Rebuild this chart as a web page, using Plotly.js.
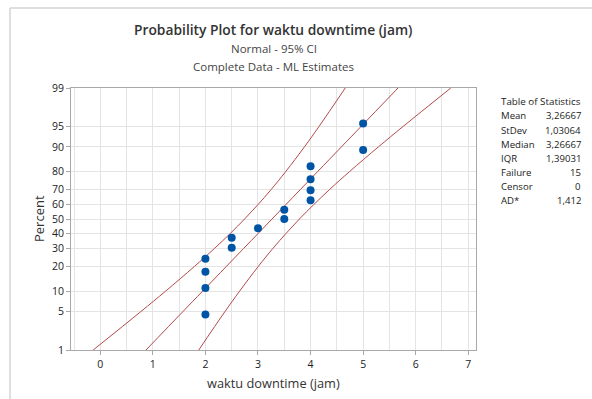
<!DOCTYPE html>
<html>
<head>
<meta charset="utf-8">
<script src="https://cdn.plot.ly/plotly-3.0.1.min.js"></script>
<style>html,body{margin:0;padding:0;background:#fff;}#chart{width:592px;height:399px;}</style>
</head>
<body>
<div id="chart"></div>
<script>
// ---- data ----
const dataX = [2, 2, 2, 2, 2.5, 2.5, 3, 3.5, 3.5, 4, 4, 4, 4, 5, 5];
const dataPct = [4.5, 11.0, 17.5, 24.0, 30.5, 37.0, 43.5, 50.0, 56.5, 63.0, 69.5, 76.0, 82.5, 89.0, 95.5];

const linePct = [1, 5, 10, 20, 30, 40, 50, 60, 70, 80, 90, 95, 99];
const fitX   = [0.869, 1.571, 1.946, 2.399, 2.726, 3.006, 3.267, 3.528, 3.807, 4.134, 4.588, 4.962, 5.664];
const ciLeftX  = [-0.135, 0.771, 1.242, 1.792, 2.170, 2.476, 2.745, 2.998, 3.251, 3.527, 3.884, 4.162, 4.660];
const ciRightX = [1.873, 2.371, 2.650, 3.006, 3.282, 3.536, 3.788, 4.058, 4.363, 4.741, 5.292, 5.762, 6.668];

const yTickPct = [1, 5, 10, 20, 30, 40, 50, 60, 70, 80, 90, 95, 99];
const xTickVals = [0, 1, 2, 3, 4, 5, 6, 7];

const statLabels = ["Mean", "StDev", "Median", "IQR", "Failure", "Censor", "AD*"];
const statValues = ["3,26667", "1,03064", "3,26667", "1,39031", "15", "0", "1,412"];

// ---- probability (normal) scale: percent -> z ----
function normInv(p) {
  const a = [-3.969683028665376e+01, 2.209460984245205e+02, -2.759285104469687e+02, 1.383577518672690e+02, -3.066479806614716e+01, 2.506628277459239e+00];
  const b = [-5.447609879822406e+01, 1.615858368580409e+02, -1.556989798598866e+02, 6.680131188771972e+01, -1.328068155288572e+01];
  const c = [-7.784894002430293e-03, -3.223964580411365e-01, -2.400758277161838e+00, -2.549732539343734e+00, 4.374664141464968e+00, 2.938163982698783e+00];
  const d = [7.784695709041462e-03, 3.224671290700398e-01, 2.445134137142996e+00, 3.754408661907416e+00];
  const pl = 0.02425, ph = 1 - pl;
  let q, r;
  if (p < pl) { q = Math.sqrt(-2 * Math.log(p)); return (((((c[0]*q+c[1])*q+c[2])*q+c[3])*q+c[4])*q+c[5]) / ((((d[0]*q+d[1])*q+d[2])*q+d[3])*q+1); }
  if (p <= ph) { q = p - 0.5; r = q*q; return (((((a[0]*r+a[1])*r+a[2])*r+a[3])*r+a[4])*r+a[5])*q / (((((b[0]*r+b[1])*r+b[2])*r+b[3])*r+b[4])*r+1); }
  q = Math.sqrt(-2 * Math.log(1 - p)); return -(((((c[0]*q+c[1])*q+c[2])*q+c[3])*q+c[4])*q+c[5]) / ((((d[0]*q+d[1])*q+d[2])*q+d[3])*q+1);
}
const z = pct => normInv(pct / 100);

const FONT = '"Open Sans", "Noto Sans", sans-serif';
const LINE_COLOR = '#b44a4a';

const lineTrace = (xs) => ({
  x: xs, y: linePct.map(z), type: 'scatter', mode: 'lines',
  line: {color: LINE_COLOR, width: 1, shape: 'spline'}, hoverinfo: 'skip', showlegend: false
});

const traces = [
  lineTrace(ciLeftX),
  lineTrace(fitX),
  lineTrace(ciRightX),
  {
    x: dataX, y: dataPct.map(z), type: 'scatter', mode: 'markers',
    marker: {color: '#0054a6', size: 8}, showlegend: false
  }
];

// geometry helpers (paper coords; plot area 71..476 x, 88..350 y)
const L = 71, R = 476, T = 88, B = 350;
const px = v => (v - L) / (R - L);
const py = v => (B - v) / (B - T);

const annotations = [
  {text: 'Probability Plot for waktu downtime (jam)', x: 0.5, y: py(30), xref: 'paper', yref: 'paper', showarrow: false,
   font: {family: FONT, size: 13.8, color: '#333', weight: 600}, xanchor: 'center', yanchor: 'middle'},
  {text: 'Normal - 95% CI', x: 0.5, y: py(48.5), xref: 'paper', yref: 'paper', showarrow: false,
   font: {family: FONT, size: 11.5, color: '#444'}, xanchor: 'center', yanchor: 'middle'},
  {text: 'Complete Data - ML Estimates', x: 0.5, y: py(66), xref: 'paper', yref: 'paper', showarrow: false,
   font: {family: FONT, size: 11.5, color: '#444'}, xanchor: 'center', yanchor: 'middle'},
  {text: 'Table of Statistics', x: px(541), y: py(101.5), xref: 'paper', yref: 'paper', showarrow: false,
   font: {family: FONT, size: 9.8, color: '#222'}, xanchor: 'center', yanchor: 'middle'},
  {text: 'Percent', x: px(39), y: py(219), xref: 'paper', yref: 'paper', showarrow: false, textangle: -90,
   font: {family: FONT, size: 13, color: '#333'}, xanchor: 'center', yanchor: 'middle'},
  {text: 'waktu downtime (jam)', x: px(273), y: py(383), xref: 'paper', yref: 'paper', showarrow: false,
   font: {family: FONT, size: 12.8, color: '#333'}, xanchor: 'center', yanchor: 'middle'}
];
statLabels.forEach((lab, i) => {
  const yy = py(116 + i * 14.15);
  annotations.push({text: lab, x: px(499), y: yy, xref: 'paper', yref: 'paper', showarrow: false,
    font: {family: FONT, size: 9.6, color: '#222'}, xanchor: 'left', yanchor: 'middle'});
  annotations.push({text: statValues[i], x: px(583), y: yy, xref: 'paper', yref: 'paper', showarrow: false,
    font: {family: FONT, size: 9.6, color: '#222'}, xanchor: 'right', yanchor: 'middle'});
});

const layout = {
  width: 592, height: 399,
  margin: {l: L, r: 592 - R, t: T, b: 399 - B, pad: 0},
  paper_bgcolor: '#fff', plot_bgcolor: '#fff',
  font: {family: FONT, size: 10, color: '#333'},
  showlegend: false,
  xaxis: {
    range: [-0.557, 7.147], tickvals: xTickVals, ticktext: xTickVals.map(String),
    showgrid: true, gridcolor: '#e4e4e4', gridwidth: 1,
    minor: {dtick: 0.5, tick0: 0, showgrid: true, gridcolor: '#e4e4e4', gridwidth: 1, ticks: ''},
    zeroline: false, showline: true, linecolor: '#a8a8a8', linewidth: 1, mirror: true,
    ticks: 'outside', ticklen: 4, tickcolor: '#a8a8a8',
    tickfont: {family: FONT, size: 10.5, color: '#222'}
  },
  yaxis: {
    range: [z(1), z(99)], tickvals: yTickPct.map(z), ticktext: yTickPct.map(String),
    showgrid: true, gridcolor: '#e4e4e4', gridwidth: 1,
    zeroline: false, showline: true, linecolor: '#a8a8a8', linewidth: 1, mirror: true,
    ticks: 'outside', ticklen: 4, tickcolor: '#a8a8a8',
    tickfont: {family: FONT, size: 10.5, color: '#222'}
  },
  annotations: annotations,
  shapes: [
    {type: 'line', xref: 'paper', yref: 'paper', x0: px(10), x1: px(592), y0: py(8), y1: py(8), line: {color: '#d4d4d4', width: 1.5}},
    {type: 'line', xref: 'paper', yref: 'paper', x0: px(10), x1: px(10), y0: py(8), y1: py(399), line: {color: '#d4d4d4', width: 1.5}}
  ]
};

Plotly.newPlot('chart', traces, layout, {staticPlot: true, displayModeBar: false});
</script>
</body>
</html>
